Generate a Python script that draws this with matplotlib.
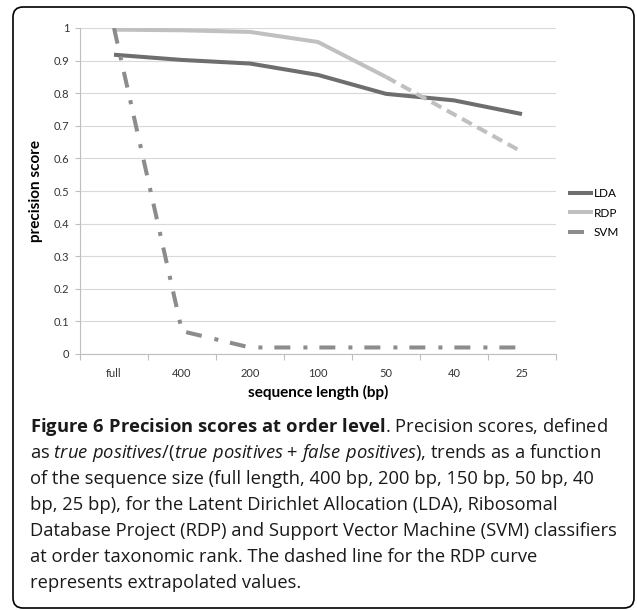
import numpy as np
import matplotlib as mpl
mpl.use("Agg")
import matplotlib.pyplot as plt
from matplotlib.patches import FancyBboxPatch
from matplotlib.transforms import IdentityTransform

plt.rcParams["font.family"] = ["Lato", "DejaVu Sans"]
plt.rcParams["lines.scale_dashes"] = False
plt.rcParams["mathtext.fontset"] = "custom"
plt.rcParams["mathtext.rm"] = "Open Sans"
plt.rcParams["mathtext.it"] = "Open Sans:italic"
plt.rcParams["mathtext.bf"] = "Open Sans:bold"

categories = ["full", "400", "200", "100", "50", "40", "25"]
lda = [0.918, 0.902, 0.891, 0.856, 0.798, 0.778, 0.736]
rdp = [0.995, 0.993, 0.988, 0.957, 0.850, 0.735, 0.620]
rdp_measured = 5  # points after this are extrapolated (dashed)
svm = [1.0, 0.07, 0.02, 0.02, 0.02, 0.02, 0.02]
yticks = [0, 0.1, 0.2, 0.3, 0.4, 0.5, 0.6, 0.7, 0.8, 0.9, 1]
ytick_labels = ["0", "0.1", "0.2", "0.3", "0.4", "0.5", "0.6", "0.7", "0.8", "0.9", "1"]

caption = [
    r"$\mathbf{Figure\ 6\ Precision\ scores\ at\ order\ level}$. Precision scores, defined",
    r"as $\mathit{true\ positives}$/($\mathit{true\ positives}$ + $\mathit{false\ positives}$), trends as a function",
    "of the sequence size (full length, 400 bp, 200 bp, 150 bp, 50 bp, 40",
    "bp, 25 bp), for the Latent Dirichlet Allocation (LDA), Ribosomal",
    "Database Project (RDP) and Support Vector Machine (SVM) classifiers",
    "at order taxonomic rank. The dashed line for the RDP curve",
    "represents extrapolated values.",
]

W, H = 637, 610
fig = plt.figure(figsize=(W / 100, H / 100), dpi=100)
ax = fig.add_axes([80 / W, 1 - 354 / H, 476 / W, 326 / H])

x = np.arange(len(categories))
ax.plot(x, lda, color="#6e6e6e", lw=2.9, solid_capstyle="butt", label="LDA")
ax.plot(x[:rdp_measured], rdp[:rdp_measured], color="#c0c0c0", lw=2.9,
        solid_capstyle="butt", label="RDP")
ax.plot(x[rdp_measured - 1:], rdp[rdp_measured - 1:], color="#c0c0c0", lw=2.9,
        dashes=(8, 4.5), dash_capstyle="butt")
ax.plot(x, svm, color="#8c8c8c", lw=2.9, dashes=(11.5, 9.4, 2.9, 8.6),
        dash_capstyle="butt", label="SVM")

ax.set_xlim(-0.5, len(categories) - 0.5)
ax.set_ylim(0, 1)
ax.set_yticks(yticks)
ax.set_yticklabels(ytick_labels)
ax.set_xticks(x)
ax.set_xticklabels(categories)
ax.set_xticks(np.arange(len(categories) + 1) - 0.5, minor=True)
ax.tick_params(axis="x", which="major", length=0, pad=10, labelsize=8, colors="#333333")
ax.tick_params(axis="x", which="minor", length=4, width=0.8, color="#bfbfbf", direction="out")
ax.tick_params(axis="y", length=3.5, width=0.8, color="#bfbfbf", pad=4, labelsize=8,
               labelcolor="#333333")
ax.grid(axis="y", color="#d9d9d9", lw=0.8)
ax.set_axisbelow(True)
for s in ["top", "right"]:
    ax.spines[s].set_visible(False)
for s in ["left", "bottom"]:
    ax.spines[s].set_color("#bfbfbf")
    ax.spines[s].set_linewidth(0.8)

ax.set_xlabel("sequence length (bp)", fontsize=11, fontweight="bold", labelpad=4)
ax.set_ylabel("precision score", fontsize=11, fontweight="bold", labelpad=8)

ax.legend(loc="center left", bbox_to_anchor=(568 / W, 1 - 213 / H),
          bbox_transform=fig.transFigure, frameon=False, fontsize=8.5,
          handlelength=2.1, handletextpad=0.1, labelspacing=0.75,
          borderpad=0, borderaxespad=0)

# caption
for i, line in enumerate(caption):
    fig.text(30 / W, 1 - (432 + 26 * i) / H, line, fontsize=13.2, va="baseline",
             ha="left", color="#1a1a1a", family="Open Sans")

# rounded frame
fig.patches.append(FancyBboxPatch((13, 2), 621, 601, boxstyle="round,pad=0,rounding_size=10",
                                  transform=IdentityTransform(), fill=False,
                                  edgecolor="black", lw=1.2))

fig.savefig("out.png", dpi=100)
